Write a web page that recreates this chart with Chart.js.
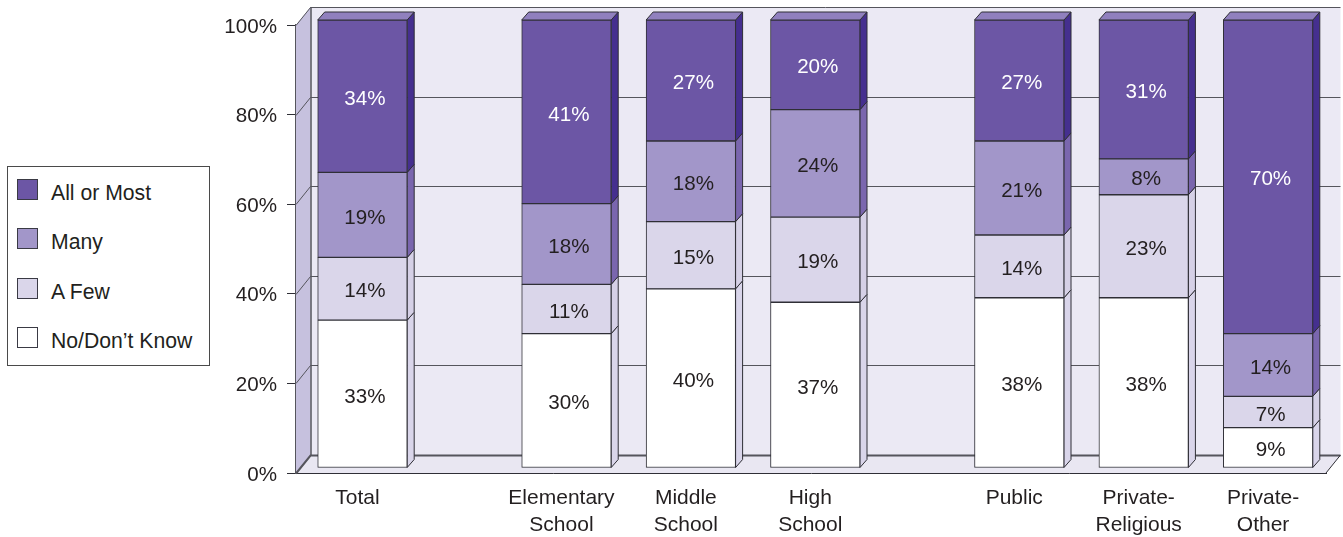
<!DOCTYPE html>
<html>
<head>
<meta charset="utf-8">
<title>Stacked bars</title>
<script src="https://cdn.jsdelivr.net/npm/chart.js@4/dist/chart.umd.js"></script>
<style>
    body { margin: 0; background: #fff; font-family: "Liberation Sans", Arial, sans-serif; color: #231f20; }
    #wrap { position: relative; width: 1343px; height: 537px; }
    #legendBox {
        position: absolute; left: 7px; top: 166px; width: 201px; height: 198px;
        border: 1px solid #4a4a4a; background: #fff;
    }
    .legend-item { position: absolute; left: 9px; height: 21px; white-space: nowrap; font-size: 21.2px; line-height: 21px; }
    .legend-item i { position: absolute; left: 0; top: 0; width: 19px; height: 19px; border: 1px solid #3a3a44; }
    .legend-item span { position: absolute; left: 34px; top: 3px; }
</style>
</head>
<body>
<div id="wrap">
    <canvas id="myChart" width="1343" height="537"></canvas>
    <div id="legendBox"></div>
</div>
<script>
// Chart data
const categories = ['Total', ['Elementary', 'School'], ['Middle', 'School'], ['High', 'School'], 'Public', ['Private-', 'Religious'], ['Private-', 'Other']];
const categoryGroups = [0, 1, 1, 1, 2, 2, 2];
const noDontKnow = [33, 30, 40, 37, 38, 38, 9];
const aFew = [14, 11, 15, 19, 14, 23, 7];
const many = [19, 18, 18, 24, 21, 8, 14];
const allOrMost = [34, 41, 27, 20, 27, 31, 70];
const yTicks = [0, 20, 40, 60, 80, 100];

// Colours: front, side, label
const seriesStyles = [
    { label: 'No/Don\u2019t Know', values: noDontKnow, front: '#ffffff', side: '#d9d5ea', text: '#231f20' },
    { label: 'A Few', values: aFew, front: '#dad6ea', side: '#d5d0e6', text: '#231f20' },
    { label: 'Many', values: many, front: '#a296c9', side: '#7a66ae', text: '#231f20' },
    { label: 'All or Most', values: allOrMost, front: '#6c56a5', side: '#452f8f', text: '#ffffff' }
];

// Slots on the x axis, the groups are set apart by a wider gap
const groupGap = 0.64;
const slots = [];
categoryGroups.forEach((group, i) => {
    if (i === 0) slots.push(0);
    else slots.push(slots[i - 1] + 1 + (group !== categoryGroups[i - 1] ? groupGap : 0));
});

const darkLine = '#2f2f36';
const fontFamily = '"Liberation Sans", Arial, sans-serif';
const fontSize = 20.6;
const wallDepth = { x: 14.5, y: -18 };
const barDepth = { x: 7, y: -8 };
const barShift = { x: 5, y: -5 };

function poly(ctx, points, fill, stroke) {
    ctx.beginPath();
    points.forEach((p, i) => i ? ctx.lineTo(p[0], p[1]) : ctx.moveTo(p[0], p[1]));
    ctx.closePath();
    ctx.fillStyle = fill;
    ctx.fill();
    if (stroke) {
        ctx.strokeStyle = stroke;
        ctx.lineWidth = 1;
        ctx.stroke();
    }
}

// Walls, floor and the depth faces of the bars
const box3d = {
    id: 'box3d',
    beforeDatasetsDraw(chart) {
        const { ctx, chartArea: area, scales: { y } } = chart;
        const dx = wallDepth.x, dy = wallDepth.y;
        const right = area.right + dx;

        ctx.save();
        poly(ctx, [[area.left + dx, area.top + dy], [right, area.top + dy], [right, area.bottom + dy], [area.left + dx, area.bottom + dy]], '#ebe9f4');
        poly(ctx, [[area.left, area.top], [area.left + dx, area.top + dy], [area.left + dx, area.bottom + dy], [area.left, area.bottom]], '#c6c1de');
        poly(ctx, [[area.left, area.bottom], [area.left + dx, area.bottom + dy], [right, area.bottom + dy], [area.right, area.bottom]], '#e9e7f2');

        yTicks.forEach(v => {
            const py = Math.round(y.getPixelForValue(v)) + 0.5;
            ctx.beginPath();
            ctx.moveTo(area.left, py);
            ctx.lineTo(area.left + dx, py + dy);
            ctx.lineTo(right, py + dy);
            ctx.lineWidth = v === 0 ? 2 : 1;
            ctx.strokeStyle = '#55555c';
            ctx.stroke();
        });
        ctx.beginPath();
        ctx.moveTo(area.left + dx + 0.5, area.top + dy);
        ctx.lineTo(area.left + dx + 0.5, area.bottom + dy);
        ctx.lineWidth = 1.5;
        ctx.strokeStyle = '#55555c';
        ctx.stroke();
        ctx.beginPath();
        ctx.moveTo(area.right, area.bottom);
        ctx.lineTo(right, area.bottom + dy);
        ctx.lineWidth = 1;
        ctx.strokeStyle = darkLine;
        ctx.stroke();
        ctx.restore();

        // the bars stand a little way back from the front edge of the floor
        ctx.save();
        ctx.translate(barShift.x, barShift.y);
        seriesStyles.forEach((s, d) => {
            chart.getDatasetMeta(d).data.forEach(bar => {
                const r = bar.x + bar.width / 2;
                const dxb = barDepth.x, dyb = barDepth.y;
                poly(ctx, [[r, bar.y], [r + dxb, bar.y + dyb], [r + dxb, bar.base + dyb], [r, bar.base]], s.side, darkLine);
                if (d === seriesStyles.length - 1) {
                    const l = bar.x - bar.width / 2;
                    poly(ctx, [[l, bar.y], [l + dxb, bar.y + dyb], [r + dxb, bar.y + dyb], [r, bar.y]], '#9080be', darkLine);
                }
            });
        });
    },
    afterDatasetsDraw(chart) {
        const { ctx } = chart;
        ctx.font = fontSize + 'px ' + fontFamily;
        ctx.textAlign = 'center';
        ctx.textBaseline = 'middle';
        seriesStyles.forEach((s, d) => {
            chart.getDatasetMeta(d).data.forEach((bar, i) => {
                ctx.fillStyle = s.text;
                ctx.fillText(s.values[i] + '%', bar.x + 2.5, (bar.y + bar.base) / 2 + 3);
            });
        });
        ctx.restore();
    }
};

// Legend, top of the stack first
function buildLegend() {
    const box = document.getElementById('legendBox');
    [...seriesStyles].reverse().forEach((s, i) => {
        const item = document.createElement('div');
        item.className = 'legend-item';
        item.style.top = (12 + i * 49.3) + 'px';
        item.innerHTML = `<i style="background:${s.front}"></i><span>${s.label}</span>`;
        box.appendChild(item);
    });
}

// Percent labels sit 1px under their tick marks
function lowerLabels(scale) {
    const drawLabels = scale.drawLabels;
    scale.drawLabels = function (area) {
        this.ctx.save();
        this.ctx.translate(0, 1);
        drawLabels.call(this, area);
        this.ctx.restore();
    };
}

function showChart() {
    const ctx = document.getElementById('myChart').getContext('2d');
    new Chart(ctx, {
        type: 'bar',
        data: {
            datasets: seriesStyles.map(s => ({
                label: s.label,
                data: s.values.map((v, i) => ({ x: slots[i], y: v })),
                backgroundColor: s.front,
                borderColor: darkLine,
                borderWidth: 1,
                borderSkipped: false,
                barThickness: 89.5
            }))
        },
        options: {
            responsive: false,
            animation: false,
            layout: { padding: { top: 25, right: 17 } },
            plugins: {
                legend: { display: false },
                tooltip: { enabled: false }
            },
            scales: {
                x: {
                    type: 'linear',
                    offset: false,
                    stacked: true,
                    min: -0.494,
                    max: 7.786,
                    grid: { display: false },
                    border: { color: darkLine, width: 1 },
                    afterBuildTicks: scale => { scale.ticks = slots.map(v => ({ value: v })); },
                    afterFit: scale => { scale.height = 64; },
                    ticks: {
                        autoSkip: false,
                        maxRotation: 0,
                        padding: 4,
                        color: '#231f20',
                        font: { family: fontFamily, size: 21, lineHeight: 1.29 },
                        callback: (value, index) => categories[index]
                    }
                },
                y: {
                    stacked: true,
                    min: 0,
                    max: 100,
                    grid: { drawOnChartArea: false, tickLength: 9, color: darkLine },
                    border: { color: '#55555c', width: 1.5 },
                    afterBuildTicks: scale => { scale.ticks = yTicks.map(v => ({ value: v })); },
                    afterFit: scale => { scale.width = 296; },
                    afterUpdate: lowerLabels,
                    ticks: {
                        padding: 10,
                        color: '#231f20',
                        font: { family: fontFamily, size: fontSize },
                        callback: value => value + '%'
                    }
                }
            }
        },
        plugins: [box3d]
    });
}

document.addEventListener('DOMContentLoaded', () => {
    buildLegend();
    showChart();
});
</script>
</body>
</html>
